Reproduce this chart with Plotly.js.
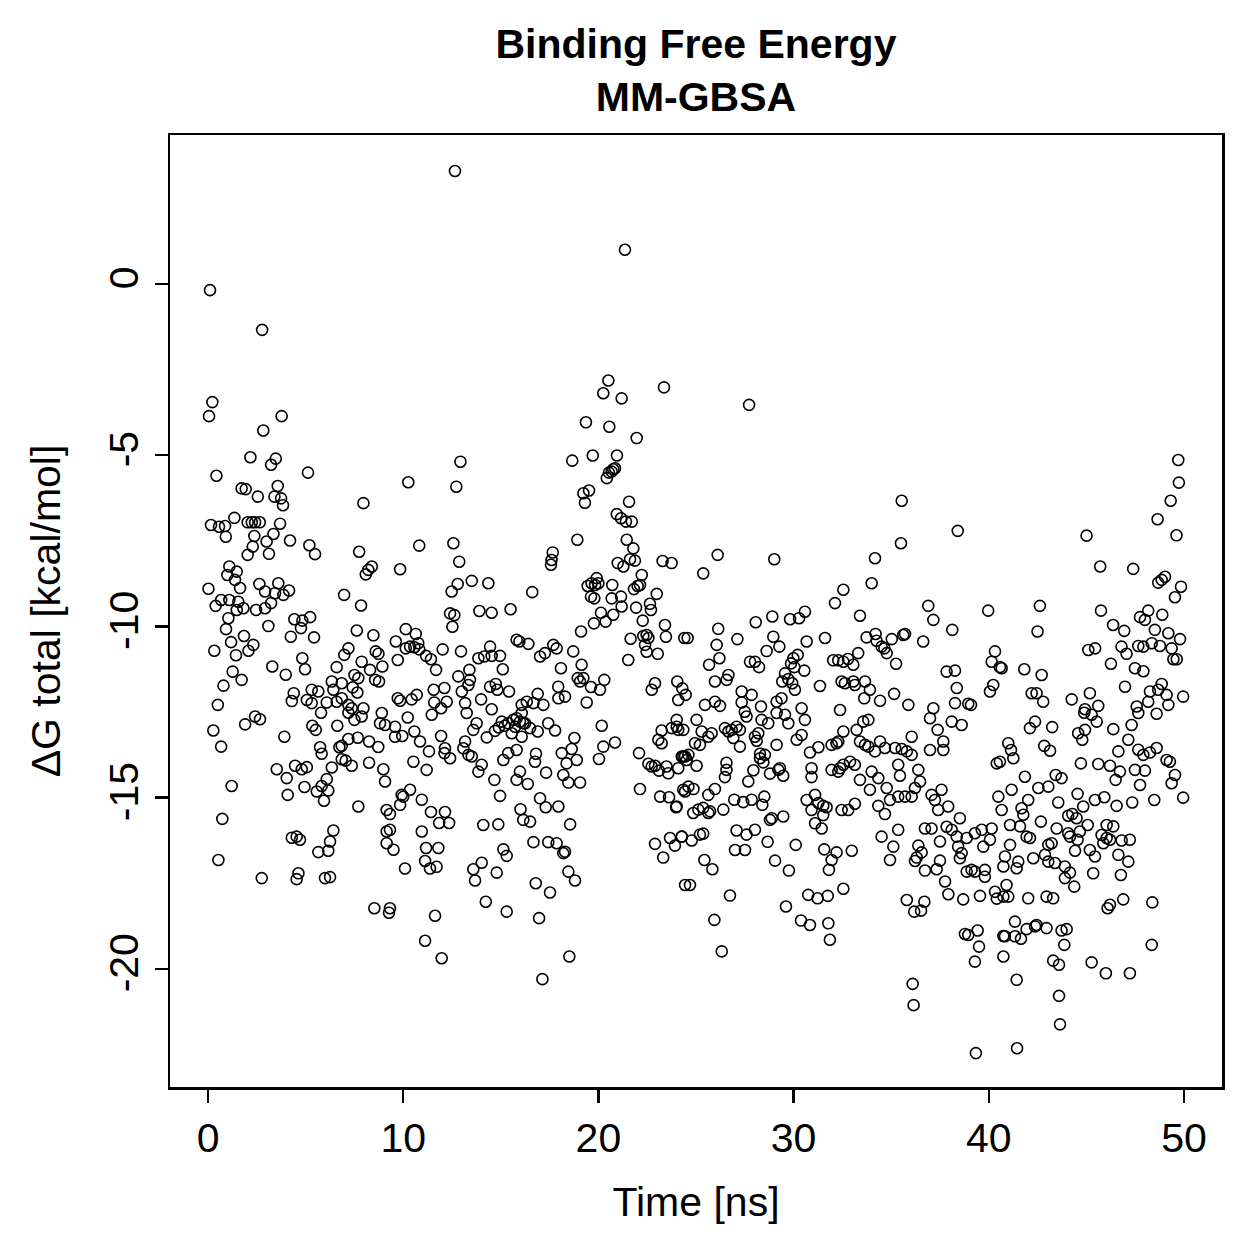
<!DOCTYPE html>
<html>
<head>
<meta charset="utf-8">
<script src="https://cdn.plot.ly/plotly-3.0.1.min.js"></script>
<style>html,body{margin:0;padding:0;background:#fff;}#chart{width:1259px;height:1259px;}</style>
</head>
<body>
<div id="chart"></div>
<script>
// ---- Data (time in ns, ΔG total in kcal/mol) ----
const timeA = [0.10,2.77,0.22,0.05,3.77,2.83,2.17,3.47,3.23,5.12,
0.43,1.72,1.93,2.55,3.57,3.40,3.74,3.84,7.96,0.15,
0.56,0.87,0.91,1.35,2.03,2.24,2.41,2.65,3.69,3.35,
2.37,3.00,4.20,5.19,5.48,2.29,2.03,3.12,7.74,1.09,
1.47,0.99,1.38,1.64,0.02,2.63,2.92,3.60,3.43,3.86,
4.15,6.97,0.67,0.39,1.09,1.55,1.81,1.47,2.46,2.92,
3.23,7.84,1.04,0.92,1.84,1.18,2.32,2.07,1.43,3.09,
4.42,4.83,5.23,4.76,4.24,5.43,7.62,0.32,4.83,4.97,
3.29,3.98,1.26,1.72,0.79,7.87,7.19,6.98,6.59,7.50,
6.34,6.85,7.70,7.41,7.65,6.42,6.85,5.31,5.65,4.39,
4.29,5.06,5.31,6.08,6.59,7.19,7.36,0.50,5.79,7.19,
7.50,7.96,7.87,2.41,2.66,1.90,0.27,0.67,3.91,5.34,
5.52,6.62,5.74,5.82,6.73,6.85,7.19,7.67,8.25,6.85,
7.05,7.36,8.25,3.52,4.46,4.80,5.06,4.03,6.34,6.08,
5.82,6.16,5.57,4.94,4.08,5.94,1.21,7.70,0.73,4.29,
4.54,4.71,6.42,6.25,6.16,5.65,0.53,2.75,4.63,4.54,
5.99,6.25];
const dGA = [-0.18,-1.34,-3.45,-3.86,-3.86,-4.28,-5.06,-5.10,-5.28,-5.51,
-5.60,-5.97,-5.99,-6.21,-5.90,-6.21,-6.26,-6.46,-6.40,-7.04,
-7.09,-7.07,-7.38,-6.83,-6.96,-6.96,-6.96,-6.96,-7.00,-7.30,
-7.36,-7.52,-7.49,-7.63,-7.89,-7.67,-7.91,-7.88,-7.82,-8.25,
-8.40,-8.50,-8.64,-8.88,-8.90,-8.76,-8.98,-8.74,-9.03,-9.08,
-8.95,-9.08,-9.23,-9.40,-9.23,-9.28,-9.47,-9.52,-9.52,-9.47,
-9.32,-9.39,-9.76,-10.08,-10.28,-10.46,-10.54,-10.71,-10.84,-9.99,
-9.79,-9.83,-9.73,-10.05,-10.30,-10.32,-10.12,-10.71,-10.93,-11.25,
-11.17,-11.41,-11.32,-11.56,-11.73,-11.03,-10.64,-10.83,-11.19,-11.42,
-11.61,-11.66,-11.51,-11.78,-11.93,-11.85,-12.10,-11.85,-11.90,-11.95,
-12.18,-12.15,-12.24,-12.22,-12.20,-12.29,-12.39,-12.29,-12.52,-12.52,
-12.73,-12.39,-12.63,-12.63,-12.71,-12.86,-13.04,-13.51,-13.22,-12.90,
-13.02,-12.90,-13.53,-13.72,-13.53,-13.49,-13.29,-13.25,-13.36,-13.88,
-13.92,-14.07,-13.98,-14.17,-14.07,-14.17,-14.11,-14.43,-14.12,-14.46,
-14.66,-14.79,-14.82,-14.69,-14.92,-15.09,-14.66,-15.26,-15.62,-16.17,
-16.14,-16.23,-15.96,-16.28,-16.55,-16.59,-16.82,-17.35,-17.21,-17.38,
-17.35,-17.32];

const timeB = [12.65,12.93,10.26,12.72,10.82,12.57,12.87,8.39,8.21,8.08,
9.84,13.51,14.36,12.79,12.48,13.90,14.53,15.50,12.40,12.62,
12.52,8.47,10.13,10.64,10.77,10.35,10.13,10.57,10.82,11.17,
11.42,9.62,9.72,12.02,12.96,14.45,14.15,13.85,14.53,14.96,
15.81,15.95,15.10,8.59,8.73,8.30,8.93,8.56,8.76,11.68,
12.82,13.39,13.42,13.34,14.45,14.74,14.82,15.42,13.99,11.56,
12.11,11.59,12.23,13.00,13.17,9.72,9.84,10.43,10.69,8.72,
11.46,11.94,8.90,8.81,9.07,9.58,10.23,9.58,9.95,10.57,
10.86,11.32,10.52,11.20,8.98,9.07,11.94,12.14,12.40,12.11,
13.25,14.53,13.59,13.76,14.28,13.17,13.08,13.34,13.51,13.85,
14.02,15.05,15.38,15.64,15.81,15.73,15.56,16.07,16.15,15.81,
15.38,15.13,15.98,15.81,14.67,14.96,16.01,16.15,9.92,10.00,
10.35,10.95,9.84,9.15,9.32,11.42,12.14,11.84,12.35,10.95,
9.32,9.15,9.15,9.50,11.17,11.80,11.12,11.37,11.71,10.09,
14.10,14.87,15.13,15.30,14.02,13.59,13.68,14.79,14.23,15.30,
8.52,9.32,9.27,11.63,11.12,11.97,14.90,15.20,14.70];
const dGB = [3.30,-5.19,-5.79,-5.92,-7.64,-7.57,-8.11,-8.25,-8.35,-8.48,
-8.33,-8.67,-8.74,-8.76,-8.98,-9.55,-9.60,-9.50,-9.62,-9.67,
-10.01,-10.26,-10.08,-10.22,-10.49,-10.59,-10.64,-10.61,-10.67,-10.86,
-10.96,-10.44,-10.98,-10.67,-10.73,-10.59,-10.88,-10.93,-10.86,-10.86,
-10.39,-10.44,-11.25,-10.73,-10.80,-11.27,-11.17,-11.56,-11.61,-11.27,
-11.46,-11.27,-11.56,-11.71,-11.76,-11.68,-11.85,-11.90,-12.13,-11.85,
-11.80,-12.22,-12.20,-11.90,-12.24,-12.10,-12.17,-12.13,-12.00,-13.52,
-12.58,-12.39,-12.53,-12.83,-12.88,-12.93,-12.66,-13.22,-13.20,-13.07,
-13.36,-13.65,-13.95,-14.19,-14.17,-14.53,-13.20,-13.56,-13.85,-13.70,
-12.53,-12.42,-13.02,-12.83,-13.24,-13.36,-13.56,-13.75,-13.80,-14.24,
-14.04,-12.78,-12.83,-12.73,-12.68,-12.93,-13.12,-12.29,-12.83,-13.61,
-13.70,-13.90,-14.24,-14.48,-14.48,-14.95,-15.34,-15.65,-14.92,-14.97,
-14.77,-15.06,-15.21,-15.36,-15.48,-15.42,-15.42,-15.74,-15.74,-15.99,
-15.94,-15.99,-16.33,-16.52,-16.47,-16.47,-16.85,-17.07,-17.02,-17.07,
-15.80,-15.78,-16.51,-16.70,-16.90,-17.09,-17.42,-17.19,-18.04,-18.33,
-18.23,-18.23,-18.36,-18.45,-19.18,-19.69,-12.95,-12.90,-13.05];

const timeC = [21.36,20.51,20.25,21.19,23.36,19.36,20.56,21.96,18.66,19.71,
20.95,20.76,20.54,20.43,20.68,20.85,19.23,19.52,19.31,21.57,
20.94,21.16,21.41,21.71,18.92,21.45,21.79,17.66,17.60,17.57,
20.99,21.28,21.62,21.87,23.29,23.75,16.61,19.45,19.65,19.91,
19.83,19.62,19.79,20.00,20.71,20.68,21.16,21.19,22.22,22.01,
21.82,22.13,22.99,22.64,22.69,22.27,21.93,20.13,20.37,20.76,
19.77,19.11,23.41,23.46,24.40,21.65,22.30,22.47,22.56,22.39,
22.47,23.04,21.53,16.41,17.01,17.26,17.69,17.86,18.71,18.08,
19.14,18.94,19.23,19.06,19.62,20.30,20.08,17.94,17.95,18.29,
16.89,16.33,16.67,17.18,19.40,22.90,22.73,24.04,24.30,24.47,
16.07,15.98,16.24,16.50,16.89,17.43,17.78,16.07,16.80,16.75,
17.32,16.38,18.12,18.63,18.77,18.89,18.37,18.20,18.46,19.06,
20.17,20.25,20.03,20.85,17.01,17.30,17.95,16.50,18.55,16.67,
17.43,17.86,18.20,18.29,18.46,18.80,16.79,17.52,16.96,18.51,
17.13,22.08,22.13,22.56,22.73,22.90,23.10,23.49,23.58,24.09,
24.35,24.35,24.09,23.75,23.24,23.07,23.24,24.01,24.09,23.16,
23.62,23.98,22.90,23.67,23.92,23.32,24.27,24.44];
const dGC = [1.00,-2.82,-3.19,-3.34,-3.02,-4.04,-4.17,-4.50,-5.16,-5.01,
-5.01,-5.41,-5.51,-5.67,-5.48,-5.38,-6.11,-6.03,-6.39,-6.36,
-6.72,-6.84,-6.94,-6.94,-7.47,-7.47,-7.72,-7.84,-8.06,-8.20,
-8.15,-8.25,-8.04,-8.08,-8.09,-8.15,-9.00,-8.82,-8.74,-8.59,
-8.79,-9.13,-9.18,-8.74,-8.79,-9.18,-9.13,-9.42,-8.50,-8.82,
-8.91,-8.79,-9.05,-9.34,-9.52,-9.83,-9.45,-9.60,-9.86,-9.66,
-9.91,-10.15,-9.96,-10.30,-10.34,-10.36,-10.28,-10.25,-10.34,-10.54,
-10.74,-10.80,-10.98,-10.51,-10.88,-10.78,-10.54,-10.64,-10.73,-11.22,
-11.12,-11.51,-11.51,-11.61,-11.77,-11.56,-11.85,-11.76,-12.10,-12.05,
-11.97,-12.20,-12.24,-12.29,-12.22,-11.66,-11.85,-11.61,-11.81,-12.00,
-12.53,-12.78,-12.83,-12.97,-13.07,-12.83,-13.04,-13.22,-13.72,-13.95,
-14.27,-14.60,-13.70,-13.58,-13.26,-13.90,-14.00,-14.34,-14.56,-14.56,
-12.90,-13.51,-13.87,-13.39,-15.02,-15.28,-15.26,-15.70,-15.78,-16.30,
-16.30,-16.33,-16.62,-16.58,-17.16,-17.42,-17.50,-17.77,-18.52,-19.64,
-20.30,-13.70,-14.75,-14.01,-14.09,-14.07,-14.21,-14.09,-14.29,-14.14,
-13.80,-14.77,-13.02,-12.97,-13.04,-13.31,-13.41,-12.73,-12.15,-14.97,
-14.99,-15.28,-16.35,-16.18,-16.40,-16.75,-16.14,-17.55];

const timeD = [27.72,26.11,25.37,29.01,32.55,32.12,30.58,30.28,29.82,28.91,
28.06,24.57,26.14,26.06,27.12,26.20,25.67,28.96,29.27,28.62,
30.67,31.61,27.77,28.02,28.23,25.97,26.66,26.57,29.99,30.21,
29.87,30.04,30.55,29.56,29.73,29.42,29.93,30.07,31.35,32.03,
32.29,32.55,32.46,27.34,27.85,27.34,28.33,29.13,29.38,25.46,
25.97,26.23,30.41,32.38,27.59,27.50,28.36,28.70,29.13,30.58,
29.73,29.56,25.03,24.01,24.35,25.29,25.63,25.80,25.20,24.95,
26.48,26.66,26.83,27.08,27.25,26.91,27.25,28.02,28.11,28.19,
24.27,24.44,24.61,24.52,25.03,26.56,26.56,26.48,25.97,25.63,
24.61,24.87,24.44,24.01,24.86,25.12,25.37,25.63,25.72,26.40,
26.96,27.42,27.85,28.40,28.50,28.28,28.45,28.79,27.94,27.68,
29.13,29.30,29.47,29.22,28.53,28.28,28.88,28.79,29.47,24.27,
24.78,25.20,25.37,27.08,27.59,28.02,27.00,27.51,28.67,25.43,
25.84,24.69,29.05,29.76,30.11,26.74,25.94,26.32,29.61,30.38,
30.84,30.75,31.23,31.75,31.78,31.86,32.55,30.67,31.10,31.27,
31.52,31.69,30.92,31.10,31.44,31.52,31.57,32.20,31.95,31.81,
30.84,31.27,30.92,30.92,31.95,32.20,31.95,32.29,32.38,32.55,
32.55,30.16,30.41,32.46];
const dGD = [-3.53,-7.91,-8.45,-8.04,-8.93,-9.32,-9.57,-9.76,-9.79,-9.71,
-9.88,-10.34,-10.07,-10.54,-10.37,-10.93,-11.12,-10.30,-10.59,-10.72,
-10.44,-10.34,-11.03,-11.03,-11.19,-11.61,-11.42,-11.56,-10.93,-10.83,
-11.08,-11.19,-11.29,-11.37,-11.54,-11.61,-11.66,-11.85,-11.74,-10.99,
-10.99,-11.03,-11.61,-11.90,-12.00,-12.22,-12.34,-12.20,-12.10,-12.29,
-12.20,-12.32,-12.39,-12.44,-12.63,-12.49,-12.73,-12.83,-12.53,-12.73,
-12.83,-12.58,-12.73,-12.93,-13.02,-13.07,-13.22,-13.12,-13.46,-13.41,
-12.97,-13.07,-13.02,-12.93,-13.02,-13.26,-13.51,-13.22,-13.34,-13.12,
-13.80,-13.80,-13.75,-13.90,-14.07,-13.98,-14.19,-14.40,-14.75,-14.92,
-14.68,-14.75,-14.82,-15.26,-15.45,-15.35,-15.30,-15.45,-15.40,-15.35,
-15.06,-15.13,-15.06,-15.21,-14.97,-13.72,-13.97,-14.30,-14.20,-14.53,
-13.46,-14.14,-14.36,-14.19,-13.75,-13.85,-15.60,-15.65,-15.55,-16.14,
-16.25,-16.08,-16.05,-15.96,-16.08,-15.94,-16.53,-16.53,-16.29,-16.82,
-17.09,-17.55,-16.84,-17.13,-16.38,-17.86,-18.57,-19.49,-18.18,-18.59,
-18.72,-17.84,-17.94,-17.87,-18.67,-19.15,-17.66,-15.07,-14.92,-15.16,
-15.24,-15.28,-15.36,-15.75,-15.90,-15.51,-16.51,-16.60,-16.82,-17.11,
-13.68,-13.53,-14.14,-14.40,-13.46,-13.41,-14.19,-14.24,-14.14,-14.04,
-13.07,-13.31,-13.17,-15.36];

const timeE = [35.54,38.41,35.50,34.17,34.00,33.40,36.90,37.16,39.97,38.13,
33.74,34.20,34.25,34.51,34.65,35.03,34.77,35.62,35.71,35.25,
36.64,32.79,33.06,33.31,32.63,33.06,33.14,33.66,33.91,33.62,
34.43,35.15,37.84,38.27,38.36,40.15,40.32,40.57,40.23,40.06,
35.88,37.16,38.27,38.95,39.09,36.99,37.38,38.10,38.61,33.23,
33.57,33.83,32.29,33.40,33.66,33.83,34.17,34.43,34.68,35.20,
35.54,35.80,36.05,36.05,36.99,37.67,37.67,32.89,33.14,33.40,
34.00,34.34,33.91,34.77,35.36,35.45,34.94,34.34,34.68,32.80,
33.14,35.36,35.71,36.05,36.39,36.48,36.22,37.07,37.24,37.58,
37.41,37.92,38.52,36.73,37.07,37.84,38.10,37.50,38.36,38.87,
39.29,39.64,40.15,40.06,39.72,40.49,40.66,34.51,35.11,34.94,
35.36,32.98,36.39,36.56,36.31,36.22,36.73,37.33,37.50,37.76,
37.93,38.43,38.61,38.52,38.87,39.12,39.29,39.80,39.80,38.69,
39.55,40.32,40.41,40.75,40.75,35.80,36.70,36.18,36.53,38.78,
38.95,39.43,39.50,39.29,40.75,40.75,36.10,36.15,39.34];
const dGE = [-6.33,-7.21,-7.57,-8.01,-8.74,-9.69,-9.40,-9.81,-9.54,-10.10,
-10.32,-10.22,-10.42,-10.59,-10.64,-10.37,-10.78,-10.25,-10.22,-11.09,
-10.44,-10.95,-11.12,-10.78,-11.66,-11.61,-11.71,-11.61,-11.85,-12.10,
-12.17,-11.97,-11.32,-11.29,-11.80,-11.03,-10.73,-11.19,-11.71,-11.90,
-12.29,-12.39,-12.24,-12.26,-12.29,-12.68,-13.02,-12.78,-12.88,-13.02,
-12.78,-12.73,-13.36,-13.36,-13.46,-13.51,-13.65,-13.36,-13.55,-13.55,
-13.58,-13.65,-13.75,-13.22,-13.61,-13.36,-13.61,-13.95,-14.04,-14.48,
-14.24,-14.43,-14.77,-14.72,-14.04,-14.36,-15.07,-15.24,-15.48,-15.36,
-15.18,-14.97,-14.97,-14.97,-14.19,-14.53,-14.72,-14.92,-15.07,-14.77,
-15.36,-15.26,-15.60,-15.90,-15.90,-15.85,-15.94,-16.28,-16.14,-16.18,
-16.04,-15.94,-15.90,-16.23,-16.43,-14.97,-15.36,-16.14,-16.43,-16.82,
-15.94,-16.55,-16.40,-16.60,-16.75,-16.85,-17.13,-17.09,-16.84,-17.45,
-17.82,-16.43,-16.62,-16.77,-17.16,-17.11,-17.16,-17.11,-17.31,-17.97,
-17.87,-17.75,-17.95,-17.01,-17.89,-17.99,-18.04,-18.33,-18.30,-18.98,
-19.01,-18.88,-19.35,-19.79,-19.04,-19.64,-20.44,-21.06,-22.46];

const timeF = [49.71,49.74,49.32,48.65,49.62,45.01,45.71,47.40,48.68,48.86,
49.03,49.85,49.54,42.62,42.50,45.75,46.37,46.94,47.75,48.00,
48.17,48.89,48.51,49.20,49.80,46.80,47.06,47.66,47.92,48.35,
48.77,49.37,49.46,49.63,45.45,45.10,46.26,47.49,47.92,40.66,
41.82,42.71,42.20,42.45,42.79,44.25,45.18,45.61,44.93,46.98,
48.26,48.86,48.68,49.11,49.96,48.17,47.58,49.20,45.27,44.89,
45.53,44.93,44.58,44.79,46.38,47.32,47.66,48.60,42.11,42.37,
43.25,41.00,41.14,41.26,40.57,40.41,42.84,43.14,44.72,45.61,
46.21,46.72,46.50,47.49,48.00,47.75,46.64,47.15,47.66,47.92,
48.26,48.60,49.11,49.28,49.54,49.37,49.96,48.48,41.85,42.54,
43.05,43.43,43.73,41.17,42.02,41.68,41.77,43.56,44.55,44.84,
44.07,44.28,44.50,45.07,45.44,45.92,46.55,47.35,42.67,43.48,
44.07,44.16,44.67,44.55,46.04,46.38,45.78,46.04,46.21,45.87,
46.81,47.23,41.09,41.60,41.94,42.11,41.09,40.83,41.51,41.43,
42.28,42.88,43.05,43.22,43.05,43.39,43.90,44.16,43.90,44.38,
45.18,45.44,45.35,46.64,47.15,46.77,44.42,40.91,41.00,42.02,
42.96,43.30,46.09,46.21,46.89,48.38,41.34,40.83,41.34,41.94,
42.37,42.45,42.96,43.73,43.99,43.87,41.65,43.30,43.60,45.27,
46.00,47.23,48.35,41.43,43.60,43.65,41.45];
const dGF = [-5.14,-5.80,-6.33,-6.87,-7.34,-7.35,-8.25,-8.32,-8.72,-8.64,
-8.55,-8.84,-9.15,-9.40,-10.15,-9.54,-9.96,-10.13,-9.73,-9.81,
-9.54,-9.66,-10.10,-10.20,-10.37,-10.59,-10.80,-10.57,-10.59,-10.49,
-10.57,-10.64,-10.96,-10.96,-10.64,-10.69,-11.09,-11.22,-11.31,-11.22,
-11.25,-11.42,-11.95,-11.95,-12.20,-12.13,-11.95,-12.32,-12.42,-11.76,
-11.90,-11.68,-11.85,-12.00,-12.05,-12.20,-12.34,-12.29,-12.58,-12.52,
-12.78,-13.02,-13.12,-13.31,-13.00,-12.88,-12.53,-12.55,-12.97,-12.78,
-12.94,-13.41,-13.61,-13.85,-13.95,-14.00,-13.49,-13.63,-14.00,-14.02,
-14.07,-14.24,-14.48,-14.19,-14.21,-14.63,-13.65,-13.31,-13.60,-13.75,
-13.68,-13.55,-13.90,-13.95,-14.34,-14.58,-15.00,-15.07,-14.39,-14.72,
-14.68,-14.34,-14.43,-14.77,-15.07,-15.31,-15.50,-15.14,-14.89,-15.26,
-15.53,-15.48,-15.60,-15.80,-15.07,-14.99,-15.24,-15.14,-15.70,-15.90,
-16.04,-16.14,-15.99,-16.23,-15.80,-15.84,-16.09,-16.18,-16.23,-16.33,
-16.25,-16.23,-15.80,-15.84,-16.14,-16.18,-16.38,-16.72,-16.87,-17.06,
-16.77,-16.67,-16.38,-16.33,-16.87,-16.91,-17.01,-17.19,-17.35,-17.60,
-16.53,-16.72,-17.21,-16.67,-16.87,-17.26,-16.55,-17.55,-17.89,-17.94,
-17.89,-17.94,-18.23,-18.13,-17.97,-18.06,-18.62,-19.05,-19.05,-18.84,
-18.76,-18.72,-18.81,-18.88,-18.84,-19.30,-19.12,-19.76,-19.88,-19.81,
-20.13,-20.13,-19.30,-20.32,-20.79,-21.62,-22.32];

const xTickVals = [0, 10, 20, 30, 40, 50];
const yTickVals = [-20, -15, -10, -5, 0];
const yTickText = ["-20", "-15", "-10", "-5", "0"];
const titleText = "Binding Free Energy<br>MM-GBSA";
const xTitle = "Time [ns]";
const yTitle = "ΔG total [kcal/mol]";

// ---- Build ----
const time = [].concat(timeA, timeB, timeC, timeD, timeE, timeF);
const dG = [].concat(dGA, dGB, dGC, dGD, dGE, dGF);

const FONT = '"Liberation Sans", Arial, Helvetica, sans-serif';
const FS = 41;

const trace = {
  x: time, y: dG, type: 'scatter', mode: 'markers',
  marker: {symbol: 'circle-open', size: 11, color: '#000', line: {width: 1.6, color: '#000'}},
  hoverinfo: 'x+y', showlegend: false
};

const layout = {
  width: 1259, height: 1259,
  paper_bgcolor: '#fff', plot_bgcolor: '#fff',
  margin: {l: 170, r: 37, t: 135, b: 172, pad: 0},
  font: {family: FONT, color: '#000', size: FS},
  title: {text: titleText, font: {family: FONT, size: 41, weight: 'bold', color: '#000'},
          x: 0.5528, xref: 'container', xanchor: 'center', y: 1 - 58/1259, yref: 'container', yanchor: 'middle'},
  xaxis: {
    range: [-1.95, 51.95], tickmode: 'array', tickvals: xTickVals,
    ticks: 'outside', ticklen: 13, tickwidth: 2.5, tickcolor: '#000',
    showgrid: false, zeroline: false,
    showline: true, mirror: true, linewidth: 2.5, linecolor: '#000',
    tickfont: {family: FONT, size: FS, color: '#000'},
    title: {text: xTitle, font: {family: FONT, size: FS, color: '#000'}, standoff: 28}
  },
  yaxis: {
    range: [-23.45, 4.35], tickmode: 'array', tickvals: yTickVals, ticktext: yTickText,
    tickangle: -90,
    ticks: 'outside', ticklen: 13, tickwidth: 2.5, tickcolor: '#000',
    showgrid: false, zeroline: false,
    showline: true, mirror: true, linewidth: 2.5, linecolor: '#000',
    tickfont: {family: FONT, size: FS, color: '#000'},
    title: {text: yTitle, font: {family: FONT, size: FS, color: '#000'}, standoff: 28}
  }
};

Plotly.newPlot('chart', [trace], layout, {staticPlot: true, displayModeBar: false});
</script>
</body>
</html>
